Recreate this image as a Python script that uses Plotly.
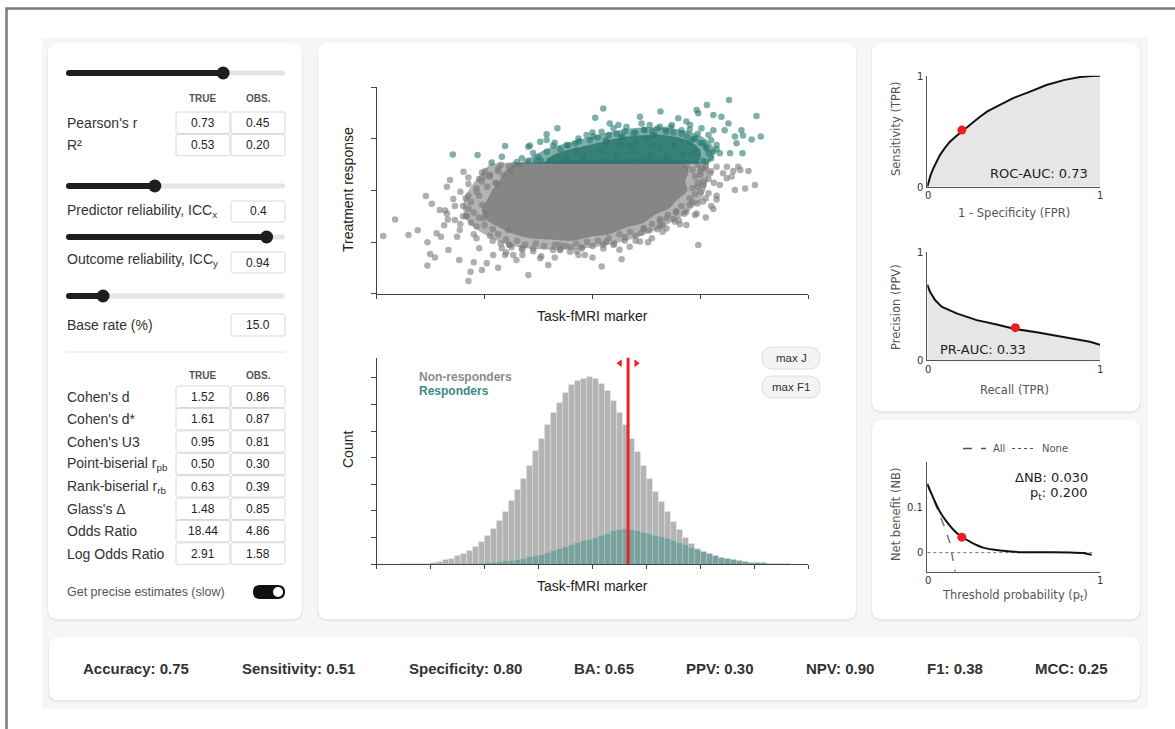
import plotly.graph_objects as go

W, H = 1175, 729
ARIAL = "Liberation Sans, Arial, Helvetica, sans-serif"
VERD = "DejaVu Sans, Verdana, sans-serif"

# ---------------- data ----------------
# Scatter: standardised task-fMRI marker (x) vs treatment response (y)
GREY_X = [-3.88, -3.66, -3.41, -3.24, -3.09, -3.06, -3.06, -3.01, -2.98, -2.92,
          -2.89, -2.83, -2.81, -2.73, -2.68, -2.67, -2.70, -2.64, -2.58, -2.55,
          -2.51, -2.47, -2.46, -2.39, -2.33, -2.30, -2.26, -2.20, -2.15, -2.10,
          -2.05, -2.02, -1.99, -1.96, -1.90, -1.84, -1.78, -1.75, -1.68, -1.62,
          -1.56, -1.53, -1.47, -1.41, -1.31, -1.19, -0.97, -0.82, -0.73, -0.60,
          -0.42, -0.26, -0.14, 0.17, 0.39, 0.54, 0.69, 0.88, 1.03, 1.25,
          1.37, 1.53, 1.62, 1.74, 1.96, 2.10, 2.24, 2.30, 2.36, 2.42,
          2.49, 2.61, 2.64, 2.70, 2.74, 2.83, 2.89, 3.01, 2.05, 2.15,
          1.93, 1.74, 1.37, 2.58, 2.49, 2.30, 2.18, 2.02,
          -2.35, -2.30, -2.30, -2.15, -1.85, -1.50, -1.10, -0.60, -0.20, 0.25,
          0.60, 0.95, 1.25, 1.55, 1.85, 2.00, 2.05, 2.00, -2.00, -1.75,
          -2.45, -2.10, -2.55, -2.45, -2.20, -1.30, -0.30, 0.20, 0.80, 1.30,
          1.60, 2.20, 2.30, 2.25, -2.70, -2.75, -0.95, 0.50, 1.10, 1.95,
          -2.40, -1.60, 0.00, -0.70, 1.90, 2.20, -1.45, -1.70, 1.95, 2.10,
          -1.55, -1.75, -1.90, -1.65, -2.05, -1.80, -2.15, -1.95, -1.35, -1.50, -2.30, -2.05,
          -2.10, -2.25, -2.05, -2.20, -2.35, -2.10, -2.25, -2.00, -2.15, -2.40, -1.98, -2.30,
          -1.85, -1.75, -1.60, -1.40, -1.25, -1.05, -0.90, -1.55, -1.90, -1.30, -1.70, -1.10,
          -0.70, -0.50, -0.30, -0.10, 0.10, 0.30, 0.50, 0.70, -0.60, -0.20, 0.20, 0.60,
          0.80, -0.40, 0.00, 0.40,
          0.95, 1.10, 1.25, 1.40, 1.55, 1.65, 1.05, 1.30, 1.50, 1.70, 1.20, 0.90,
          1.80, 1.90, 1.85, 1.95, 1.90, 1.85, 2.00, 2.05, 2.10, 1.75, 1.95, 2.10, 2.15, 1.80]
GREY_Y = [-1.76, -1.12, -1.72, -1.54, -0.21, -2.01, -2.91, -2.46, -0.51, -2.60,
          -1.66, -0.76, -1.79, -0.78, -1.12, -2.31, 0.15, 0.41, -0.33, -1.14,
          -1.79, -2.69, -1.53, 0.73, -0.99, -3.51, -3.15, -2.78, -1.85, -2.24,
          -3.08, -1.08, 0.76, -2.82, 0.54, -2.50, 0.28, -2.99, -2.24, -2.50,
          -1.53, -2.11, -2.50, -2.69, -2.24, -3.28, -2.63, -2.89, -2.31, -2.11,
          -2.37, -2.50, -2.50, -2.95, -2.11, -2.66, -2.18, -1.98, -2.01, -1.40,
          -1.47, -1.21, -1.31, -1.34, -2.11, -1.05, -0.72, -0.20, 0.21, 0.67,
          0.47, 0.76, 0.02, 0.92, 0.79, 0.08, 0.76, 0.21, -0.43, -0.11,
          -0.89, -0.82, -1.08, 0.54, 0.92, 0.92, 0.67, 0.86,
          -0.30, -0.70, 0.25, -1.40, -1.95, -2.20, -2.35, -2.30, -2.20, -2.00,
          -1.80, -1.50, -1.20, -0.85, -0.45, -0.05, 0.35, 0.75, 0.55, 0.85,
          -0.05, 0.45, -0.60, -1.30, -1.70, -2.50, -2.35, -2.25, -1.95, -1.60,
          -1.15, -0.60, -0.35, 0.30, -0.90, -1.35, -2.55, -2.30, -1.85, 0.15,
          -1.00, -2.40, -2.60, -2.60, -0.95, 0.75, 1.00, 1.00, 1.00, 0.95,
          0.95, 0.75, 0.60, 0.60, 0.35, 0.30, 0.10, 0.15, 1.00, 0.75, 0.50, 0.70,
          -0.20, -0.45, -0.55, -0.85, -1.00, -1.05, -1.25, -1.35, -0.05, -0.60, -0.90, -0.20,
          -1.50, -1.70, -1.90, -1.95, -2.10, -2.05, -2.15, -2.10, -1.75, -2.30, -2.05, -2.25,
          -2.10, -2.15, -2.05, -2.00, -1.95, -1.85, -1.70, -1.60, -2.30, -2.25, -2.10, -1.95,
          -1.75, -2.20, -2.15, -2.05,
          -1.45, -1.30, -1.10, -0.95, -0.80, -0.60, -1.55, -1.35, -1.10, -0.90, -1.50, -1.65,
          -0.30, -0.15, 0.10, 0.30, 0.55, 0.80, 0.60, 0.20, -0.30, 0.95, -0.50, 0.85, 0.45, -0.55]
# outline of the densely packed (overplotted) region of non-responders, and its softer halo
GREY_CORE_X = [-1.45, 1.70, 1.78, 1.72, 1.76, 1.55, 1.42, 1.15, 0.95, 0.60, 0.30, -0.05,
               -0.40, -0.80, -1.15, -1.45, -1.70, -1.95, -2.05, -1.95, -1.85, -1.70, -1.60]
GREY_CORE_Y = [1.04, 1.04, 0.75, 0.35, 0.00, -0.40, -0.70, -0.95, -1.25, -1.45, -1.70, -1.80,
               -1.95, -1.90, -1.85, -1.70, -1.45, -1.15, -0.75, -0.35, 0.05, 0.45, 0.80]
GREY_HALO_X = [-1.90, 2.05, 2.15, 2.10, 2.00, 1.75, 1.45, 1.10, 0.70, 0.30, -0.20, -0.70,
               -1.20, -1.65, -2.00, -2.30, -2.40, -2.35, -2.20, -2.05]
GREY_HALO_Y = [1.04, 1.04, 0.60, 0.10, -0.40, -0.85, -1.25, -1.60, -1.90, -2.10, -2.25, -2.30,
               -2.25, -2.05, -1.70, -1.25, -0.70, -0.20, 0.30, 0.70]

TEAL_X = [-2.59, -2.13, -1.87, -1.68, -1.62, -1.31, -1.19, -1.16, -0.97, -0.85,
          -0.85, -0.65, -0.73, -0.48, -0.32, -0.26, -0.11, 0.05, 0.01, 0.20,
          0.17, 0.32, 0.39, 0.48, 0.54, 0.63, 0.76, 0.88, 0.91, 0.97,
          1.06, 1.13, 1.25, 1.26, 1.37, 1.47, 1.59, 1.65, 1.74, 1.81,
          1.87, 1.93, 1.96, 2.12, 2.02, 2.05, 2.15, 2.24, 2.24, 2.30,
          2.36, 2.39, 2.45, 2.52, 2.53, 2.55, 2.64, 2.67, 2.76, 2.78,
          2.79, 2.95, 3.04, 3.12, 2.24, 2.12, 1.87, 1.68, 1.37, 1.06,
          0.76, 0.45, 0.14, -0.17, -0.48, -0.79, -1.04, 1.13, 0.82, 0.51,
          0.26, 1.50, 1.81, 1.00, 0.69, 1.25,
          -1.20, -1.00, -0.85, -0.60, -0.45, -0.25, -0.05, 0.10, 0.30, 0.45,
          0.60, 0.80, 0.95, 1.10, 1.20, 1.35, 1.50, 1.65, 1.75, 1.90,
          2.00, 2.10, 2.15, 2.20, 2.10, -1.40, -1.10, -0.70, 0.00, 0.55,
          1.45, 1.95, 2.30, 2.20, -0.30, 1.15, 0.25, 2.05, -0.95, 1.80]
TEAL_Y = [1.40, 1.38, 1.09, 1.31, 1.72, 1.25, 1.70, 1.74, 1.89, 2.18,
          1.96, 2.41, 1.74, 1.76, 1.83, 2.02, 2.15, 2.82, 2.09, 3.18,
          2.28, 2.60, 2.41, 2.54, 2.09, 2.47, 2.22, 2.86, 2.60, 2.34,
          2.54, 2.15, 2.47, 3.06, 2.28, 2.54, 2.80, 2.34, 2.67, 2.54,
          2.02, 3.12, 2.99, 3.31, 2.41, 1.83, 2.15, 2.93, 2.34, 1.76,
          1.44, 2.86, 2.34, 2.60, 3.51, 1.44, 2.09, 1.83, 2.34, 1.44,
          2.13, 1.98, 2.89, 2.09, 1.51, 1.63, 1.51, 1.38, 1.31, 1.38,
          1.51, 1.38, 1.51, 1.31, 1.25, 1.18, 1.18, 1.76, 1.89, 1.76,
          1.89, 1.76, 1.89, 2.02, 1.76, 1.63,
          1.15, 1.30, 1.50, 1.60, 1.75, 1.90, 1.95, 2.05, 2.15, 2.20,
          2.30, 2.25, 2.35, 2.30, 2.40, 2.35, 2.25, 2.20, 2.10, 2.00,
          1.85, 1.70, 1.45, 1.25, 1.10, 1.10, 1.45, 1.85, 2.25, 2.05,
          2.45, 2.20, 1.60, 1.95, 1.55, 2.15, 1.95, 1.15, 1.15, 2.35]
TEAL_CORE_X = [-0.90, -0.75, -0.50, -0.20, 0.10, 0.40, 0.70, 1.00, 1.30, 1.60, 1.85, 2.00, 2.00, 1.95]
TEAL_CORE_Y = [1.04, 1.35, 1.55, 1.70, 1.85, 2.00, 2.10, 2.15, 2.15, 2.05, 1.85, 1.55, 1.25, 1.04]
TEAL_HALO_X = [-1.35, -1.10, -0.80, -0.45, -0.10, 0.30, 0.70, 1.10, 1.50, 1.85, 2.10, 2.25, 2.25, 2.15]
TEAL_HALO_Y = [1.04, 1.35, 1.65, 1.85, 2.05, 2.25, 2.40, 2.45, 2.40, 2.25, 2.00, 1.65, 1.30, 1.04]
SCATTER_TICKS = [-4, -2, 0, 2, 4]

# Histogram (counts per bin, bins of width 1/9 starting at -4)
HIST_BIN_START = -4.0
HIST_BIN_WIDTH = 1.0 / 9.0
HIST_NONRESP = [0, 0, 0, 0, 1, 1, 1, 2, 4, 5,
                10, 16, 22, 31, 41, 51, 66, 85, 106, 134,
                163, 199, 238, 278, 321, 371, 426, 473, 523, 568,
                608, 645, 672, 688, 697, 702, 695, 676, 651, 614,
                568, 523, 473, 421, 371, 321, 274, 234, 197, 159,
                131, 100, 76, 57, 40, 29, 20, 14, 10, 7,
                5, 4, 2, 1, 1, 0, 0, 0, 0, 0, 0, 0]
HIST_RESP = [0, 0, 0, 0, 0, 0, 0, 0, 0, 0, 0, 0,
             1, 1, 1, 2, 2, 4, 5, 7, 10, 12,
             15, 19, 22, 27, 32, 37, 44, 50, 57, 65,
             72, 80, 87, 93, 100, 107, 116, 125, 131, 132,
             129, 125, 120, 115, 108, 102, 96, 88, 81, 72,
             63, 55, 46, 39, 31, 26, 21, 17, 14, 10,
             7, 6, 5, 4, 2, 1, 1, 0, 0, 0]
HIST_XTICKS = [-4, -3, -2, -1, 0, 1, 2, 3, 4]
HIST_YTICKS = [0, 100, 200, 300, 400, 500, 600, 700]
CUTOFF = 0.66

# ROC
ROC_FPR = [0, 0.01, 0.02, 0.035, 0.05, 0.073, 0.10, 0.131, 0.17, 0.208, 0.25,
           0.305, 0.35, 0.40, 0.45, 0.50, 0.595, 0.69, 0.79, 0.884, 0.95, 1.0]
ROC_TPR = [0, 0.06, 0.11, 0.165, 0.215, 0.285, 0.345, 0.405, 0.46, 0.51, 0.565,
           0.63, 0.68, 0.72, 0.765, 0.80, 0.856, 0.916, 0.96, 0.988, 0.997, 1.0]
ROC_POINT = (0.20, 0.51)
ROC_AUC = 0.73

# Precision-recall
PR_RECALL = [0, 0.015, 0.045, 0.083, 0.17, 0.286, 0.402, 0.508, 0.633, 0.749, 0.865, 0.942, 1.0]
PR_PRECISION = [0.70, 0.635, 0.557, 0.495, 0.433, 0.37, 0.33, 0.288, 0.257, 0.226, 0.195, 0.17, 0.14]
PR_POINT = (0.51, 0.30)
PR_AUC = 0.33

# Net benefit
NB_PT = [0, 0.035, 0.073, 0.112, 0.17, 0.205, 0.247, 0.324, 0.44, 0.537, 0.633, 0.826, 0.903, 0.952]
NB_MODEL = [0.151, 0.12, 0.09, 0.068, 0.043, 0.034, 0.024, 0.011, 0.004, 0.001, 0.001, 0.0, -0.001, -0.005]
NB_ALL_PT = [0, 0.06, 0.10, 0.13, 0.161]
NB_ALL = [0.15, 0.095, 0.056, 0.023, -0.042]
NB_NONE_PT = [0, 0.96]
NB_NONE = [0, 0]
NB_POINT = (0.20, 0.034)
DELTA_NB = 0.030
PT_VALUE = 0.200

# Left panel
CORR_LABELS = ["Pearson's r", "R²"]
CORR_TRUE = ["0.73", "0.53"]
CORR_OBS = ["0.45", "0.20"]
ICC_X = 0.4
ICC_Y = 0.94
BASE_RATE = 15.0
TRUE_R = 0.73
EFFECT_LABELS = ["Cohen's d", "Cohen's d*", "Cohen's U3", "Point-biserial r<sub>pb</sub>",
                 "Rank-biserial r<sub>rb</sub>", "Glass's Δ", "Odds Ratio", "Log Odds Ratio"]
EFFECT_TRUE = ["1.52", "1.61", "0.95", "0.50", "0.63", "1.48", "18.44", "2.91"]
EFFECT_OBS = ["0.86", "0.87", "0.81", "0.30", "0.39", "0.85", "4.86", "1.58"]

# Bottom metrics
METRIC_NAMES = ["Accuracy", "Sensitivity", "Specificity", "BA", "PPV", "NPV", "F1", "MCC"]
METRIC_VALUES = [0.75, 0.51, 0.80, 0.65, 0.30, 0.90, 0.38, 0.25]

# ---------------- helpers ----------------
def px(x):
    return x / W


def py(y):
    return 1 - y / H


def dom_x(a, b):
    return [a / W, b / W]


def dom_y(top, bottom):
    return [1 - bottom / H, 1 - top / H]


def rrect_path(x0, y0, x1, y1, r):
    return (f"M {px(x0 + r)},{py(y0)} L {px(x1 - r)},{py(y0)} "
            f"Q {px(x1)},{py(y0)} {px(x1)},{py(y0 + r)} L {px(x1)},{py(y1 - r)} "
            f"Q {px(x1)},{py(y1)} {px(x1 - r)},{py(y1)} L {px(x0 + r)},{py(y1)} "
            f"Q {px(x0)},{py(y1)} {px(x0)},{py(y1 - r)} L {px(x0)},{py(y0 + r)} "
            f"Q {px(x0)},{py(y0)} {px(x0 + r)},{py(y0)} Z")


shapes = []
annotations = []


def rrect(x0, y0, x1, y1, r, fill, line=None, lw=0, layer="below"):
    shapes.append(dict(type="path", path=rrect_path(x0, y0, x1, y1, r), xref="paper", yref="paper",
                       fillcolor=fill, line=dict(width=lw, color=line or fill), layer=layer))


def circle(cx, cy, r, fill):
    shapes.append(dict(type="circle", xref="paper", yref="paper", x0=px(cx - r), x1=px(cx + r),
                       y0=py(cy + r), y1=py(cy - r), fillcolor=fill, line=dict(width=0), layer="above"))


def T(x, y, text, size=14, color="#333", family=ARIAL, xanchor="left", bold=False, angle=0):
    if bold:
        text = f"<b>{text}</b>"
    annotations.append(dict(x=px(x), y=py(y), xref="paper", yref="paper", text=text, showarrow=False,
                            font=dict(size=size, color=color, family=family), xanchor=xanchor,
                            yanchor="middle", textangle=angle))


# ---------------- background & cards ----------------
shapes.append(dict(type="rect", xref="paper", yref="paper", x0=px(6.5), y0=py(745), x1=px(1195), y1=py(8.5),
                   line=dict(color="#7a7a7a", width=2.5), fillcolor="rgba(0,0,0,0)", layer="below"))
shapes.append(dict(type="rect", xref="paper", yref="paper", x0=px(42), y0=py(709), x1=px(1148), y1=py(38),
                   line=dict(width=0), fillcolor="#f6f6f6", layer="below"))
cards = [(48, 43, 302, 619), (318, 43, 856, 619), (872, 43, 1140, 411), (872, 420, 1140, 619), (49, 637, 1140, 700)]
for (a, b, c, d) in cards:
    rrect(a - 1, b, c + 1, d + 2.5, 11, "rgba(0,0,0,0.05)")
    rrect(a, b, c, d, 10, "#ffffff")

# ---------------- left panel ----------------
def slider(y, frac):
    x0, x1 = 66, 285
    knob = 72 + frac * 207
    rrect(x0, y - 2.5, x1, y + 2.5, 2.5, "#e4e4e4", layer="above")
    rrect(x0, y - 3, knob, y + 3, 3, "#1e1e1e", layer="above")
    circle(knob, y, 6.5, "#1e1e1e")


def box(x0, y0, x1, y1):
    rrect(x0, y0, x1, y1, 2, "#ffffff", line="#d9d9d9", lw=1, layer="above")


slider(73, TRUE_R)
T(203, 99, "TRUE", 10, "#555", bold=True, xanchor="center")
T(258, 99, "OBS.", 10, "#555", bold=True, xanchor="center")
for i, (lab, tv, ov) in enumerate(zip(CORR_LABELS, CORR_TRUE, CORR_OBS)):
    y0 = 112 + i * 22.3
    box(176, y0, 230, y0 + 21.5)
    box(231, y0, 285, y0 + 21.5)
    T(65, y0 + 11, lab, 14, "#333")
    T(203, y0 + 11, tv, 12, "#222", xanchor="center")
    T(258, y0 + 11, ov, 12, "#222", xanchor="center")

slider(186, ICC_X)
T(65, 211, "Predictor reliability, ICC<sub>x</sub>", 14, "#333")
box(231, 201, 285, 222)
T(258, 211.5, f"{ICC_X:g}", 12, "#222", xanchor="center")

slider(237, ICC_Y)
T(65, 260, "Outcome reliability, ICC<sub>y</sub>", 14, "#333")
box(231, 252, 285, 273)
T(258, 262.5, f"{ICC_Y:g}", 12, "#222", xanchor="center")

slider(296, BASE_RATE / 100)
T(65, 325, "Base rate (%)", 14, "#333")
box(231, 314, 285, 336)
T(258, 325, f"{BASE_RATE:.1f}", 12, "#222", xanchor="center")

shapes.append(dict(type="line", xref="paper", yref="paper", x0=px(65), x1=px(285), y0=py(352), y1=py(352),
                   line=dict(color="#e6e6e6", width=1), layer="above"))
T(203, 375, "TRUE", 10, "#555", bold=True, xanchor="center")
T(258, 375, "OBS.", 10, "#555", bold=True, xanchor="center")
for i, (lab, tv, ov) in enumerate(zip(EFFECT_LABELS, EFFECT_TRUE, EFFECT_OBS)):
    y0 = 386 + i * 22.4
    box(176, y0, 230, y0 + 21.5)
    box(231, y0, 285, y0 + 21.5)
    T(65, y0 + 11, lab, 14, "#333")
    T(203, y0 + 11, tv, 12, "#222", xanchor="center")
    T(258, y0 + 11, ov, 12, "#222", xanchor="center")

T(65, 592, "Get precise estimates (slow)", 12.5, "#555")
rrect(253, 585, 285, 599, 7, "#111111", layer="above")
circle(278, 592, 5, "#ffffff")

# ---------------- middle: scatter ----------------
fig = go.Figure()


def region(xs, ys, color):
    fig.add_trace(go.Scatter(x=xs, y=ys, fill="toself", mode="lines", fillcolor=color,
                             line=dict(width=0, shape="spline", smoothing=0.8),
                             hoverinfo="skip", xaxis="x", yaxis="y"))


region(GREY_HALO_X, GREY_HALO_Y, "rgba(128,128,128,0.6)")
region(GREY_CORE_X, GREY_CORE_Y, "rgba(122,122,122,0.8)")
fig.add_trace(go.Scatter(x=GREY_X, y=GREY_Y, mode="markers", xaxis="x", yaxis="y",
                         marker=dict(size=6.5, color="#7a7a7a", opacity=0.6, line=dict(width=0))))
region(TEAL_HALO_X, TEAL_HALO_Y, "rgba(42,122,113,0.6)")
region(TEAL_CORE_X, TEAL_CORE_Y, "rgba(36,116,107,0.8)")
fig.add_trace(go.Scatter(x=TEAL_X, y=TEAL_Y, mode="markers", xaxis="x", yaxis="y",
                         marker=dict(size=6.5, color="#2a7a71", opacity=0.6, line=dict(width=0))))

T(348, 190, "Treatment response", 14, "#222", xanchor="center", angle=-90)
T(592, 316, "Task-fMRI marker", 14, "#222", xanchor="center")

# ---------------- middle: histogram ----------------
centers = [HIST_BIN_START + (i + 0.5) * HIST_BIN_WIDTH for i in range(len(HIST_NONRESP))]
fig.add_trace(go.Bar(x=centers, y=HIST_NONRESP, width=HIST_BIN_WIDTH, xaxis="x2", yaxis="y2",
                     marker=dict(color="#b4b4b4", line=dict(width=0.5, color="rgba(255,255,255,0.45)"))))
fig.add_trace(go.Bar(x=centers, y=HIST_RESP, width=HIST_BIN_WIDTH, xaxis="x2", yaxis="y2",
                     marker=dict(color="#79a29f", line=dict(width=0.5, color="rgba(255,255,255,0.3)"))))
shapes.append(dict(type="line", xref="x2", yref="y2 domain", x0=CUTOFF, x1=CUTOFF, y0=0, y1=1,
                   line=dict(color="#e8262a", width=3), layer="above"))
fig.add_trace(go.Scatter(x=[CUTOFF - 0.15, CUTOFF + 0.15], y=[754, 754], mode="markers", xaxis="x2", yaxis="y2",
                         marker=dict(symbol=["triangle-left", "triangle-right"], size=7, color="#e8262a")))

T(417, 377, "Non-responders", 12, "#8a8a8a", bold=True)
T(417, 390.5, "Responders", 12, "#3b8a83", bold=True)
for (yc, lab) in [(358, "max J"), (387, "max F1")]:
    rrect(762, yc - 11, 820, yc + 11, 11, "#f4f4f4", line="#dddddd", lw=1, layer="above")
    T(791, yc, lab, 11.5, "#333", xanchor="center")
T(348, 450, "Count", 14, "#222", xanchor="center", angle=-90)
T(592, 586, "Task-fMRI marker", 14, "#222", xanchor="center")

# ---------------- ROC ----------------
fig.add_trace(go.Scatter(x=ROC_FPR, y=ROC_TPR, mode="lines", fill="tozeroy", fillcolor="#e6e6e6",
                         line=dict(color="#111", width=2), xaxis="x3", yaxis="y3"))
fig.add_trace(go.Scatter(x=[ROC_POINT[0]], y=[ROC_POINT[1]], mode="markers", xaxis="x3", yaxis="y3",
                         marker=dict(size=9, color="#ee1c25")))
T(896, 129, "Sensitivity (TPR)", 11.5, "#555", family=VERD, xanchor="center", angle=-90)
T(1014, 213, "1 - Specificity (FPR)", 11.5, "#555", family=VERD, xanchor="center")
T(1090, 173, f"ROC-AUC: {ROC_AUC:.2f}", 13, "#222", family=VERD, xanchor="right")

# ---------------- PR ----------------
fig.add_trace(go.Scatter(x=PR_RECALL, y=PR_PRECISION, mode="lines", fill="tozeroy", fillcolor="#e6e6e6",
                         line=dict(color="#111", width=2), xaxis="x4", yaxis="y4"))
fig.add_trace(go.Scatter(x=[PR_POINT[0]], y=[PR_POINT[1]], mode="markers", xaxis="x4", yaxis="y4",
                         marker=dict(size=9, color="#ee1c25")))
T(896, 307, "Precision (PPV)", 11.5, "#555", family=VERD, xanchor="center", angle=-90)
T(1014, 390, "Recall (TPR)", 11.5, "#555", family=VERD, xanchor="center")
T(938, 349, f"PR-AUC: {PR_AUC:.2f}", 13, "#222", family=VERD)

# ---------------- Net benefit ----------------
fig.add_trace(go.Scatter(x=NB_NONE_PT, y=NB_NONE, mode="lines", xaxis="x5", yaxis="y5",
                         line=dict(color="#777", width=1, dash="dot")))
fig.add_trace(go.Scatter(x=NB_ALL_PT, y=NB_ALL, mode="lines", xaxis="x5", yaxis="y5",
                         line=dict(color="#777", width=1.5, dash="dash")))
fig.add_trace(go.Scatter(x=NB_PT, y=NB_MODEL, mode="lines", xaxis="x5", yaxis="y5",
                         line=dict(color="#111", width=2, shape="spline")))
fig.add_trace(go.Scatter(x=[NB_POINT[0]], y=[NB_POINT[1]], mode="markers", xaxis="x5", yaxis="y5",
                         marker=dict(size=9, color="#ee1c25")))
shapes.append(dict(type="line", xref="paper", yref="paper", x0=px(963), x1=px(986), y0=py(448.5), y1=py(448.5),
                   line=dict(color="#555", width=1.5, dash="dash"), layer="above"))
T(991, 448, "All", 10, "#555", family=VERD)
shapes.append(dict(type="line", xref="paper", yref="paper", x0=px(1012), x1=px(1034), y0=py(448.5), y1=py(448.5),
                   line=dict(color="#555", width=1, dash="dot"), layer="above"))
T(1040, 448, "None", 10, "#555", family=VERD)
T(1090, 477, f"ΔNB: {DELTA_NB:.3f}", 13, "#222", family=VERD, xanchor="right")
T(1090, 494, f"p<sub>t</sub>: {PT_VALUE:.3f}", 13, "#222", family=VERD, xanchor="right")
T(896, 515, "Net benefit (NB)", 11.5, "#555", family=VERD, xanchor="center", angle=-90)
T(1015, 595, "Threshold probability (p<sub>t</sub>)", 11.5, "#555", family=VERD, xanchor="center")

# small-panel tick labels
for (x, y, t, anc) in [(925, 76, "1", "right"), (925, 187, "0", "right"), (928, 195, "0", "center"),
                       (1100, 195, "1", "center"),
                       (925, 252.5, "1", "right"), (925, 360, "0", "right"), (928, 369, "0", "center"),
                       (1100, 369, "1", "center"),
                       (925, 507.5, "0.1", "right"), (925, 552.5, "0", "right"), (927.5, 580, "0", "center"),
                       (1100, 580, "1", "center")]:
    T(x, y, t, 10, "#333", family=VERD, xanchor=anc)

# ---------------- bottom metrics ----------------
METRIC_CENTERS = [135.5, 298.5, 465.5, 604, 720, 839.5, 954.5, 1071]
for name, val, xc in zip(METRIC_NAMES, METRIC_VALUES, METRIC_CENTERS):
    T(xc, 668, f"{name}: {val:.2f}", 15, "#333", bold=True, xanchor="center")

# ---------------- axes ----------------
def ax_main(**kw):
    d = dict(showgrid=False, zeroline=False, showline=True, linecolor="#444", linewidth=1,
             ticks="outside", ticklen=4, tickcolor="#444", showticklabels=False, fixedrange=True)
    d.update(kw)
    return d


def ax_small(**kw):
    d = dict(showgrid=False, zeroline=False, showline=True, linecolor="#555", linewidth=1,
             ticks="", showticklabels=False, fixedrange=True)
    d.update(kw)
    return d


fig.update_layout(
    width=W, height=H, margin=dict(l=0, r=0, t=0, b=0),
    paper_bgcolor="#ffffff", plot_bgcolor="rgba(0,0,0,0)",
    showlegend=False, barmode="overlay", bargap=0,
    xaxis=ax_main(domain=dom_x(376.7, 808.3), range=[-4, 4], tickvals=SCATTER_TICKS, anchor="y"),
    yaxis=ax_main(domain=dom_y(87.3, 293.7), range=[-4, 4], tickvals=SCATTER_TICKS, anchor="x", ticklen=5),
    xaxis2=ax_main(domain=dom_x(376.7, 808.3), range=[-4, 4], tickvals=HIST_XTICKS, anchor="y2"),
    yaxis2=ax_main(domain=dom_y(357.7, 564.3), range=[0, 775], tickvals=HIST_YTICKS, anchor="x2", ticklen=5),
    xaxis3=ax_small(domain=dom_x(927.3, 1100), range=[0, 1], anchor="y3"),
    yaxis3=ax_small(domain=dom_y(75.7, 186.7), range=[0, 1], anchor="x3"),
    xaxis4=ax_small(domain=dom_x(927.3, 1100), range=[0, 1], anchor="y4"),
    yaxis4=ax_small(domain=dom_y(252.3, 360), range=[0, 1], anchor="x4"),
    xaxis5=ax_small(domain=dom_x(927.3, 1100), range=[0, 1], anchor="y5"),
    yaxis5=ax_small(domain=dom_y(461.7, 571.7), range=[-0.042, 0.2], anchor="x5"),
    shapes=shapes, annotations=annotations,
)

fig.write_html("out.html")
